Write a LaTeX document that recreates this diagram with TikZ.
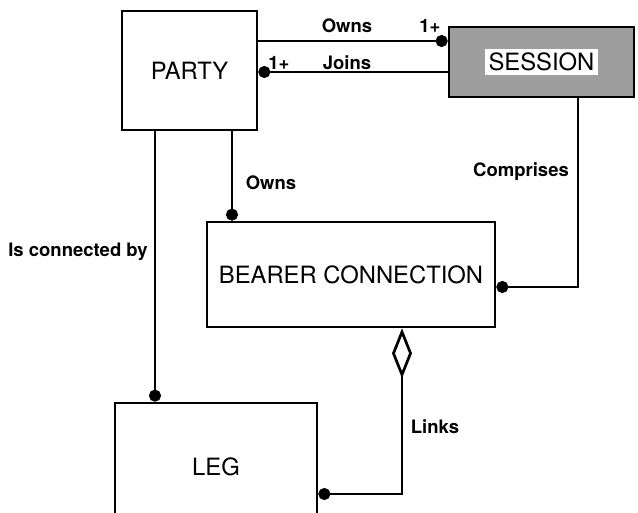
\documentclass[tikz,border=0pt]{standalone}
\usepackage{fontspec}
\setmainfont{TeX Gyre Heros}
\usepackage{xcolor}
\usepackage{tikz}
\usetikzlibrary{arrows.meta, calc}
\definecolor{sessiongray}{RGB}{158,158,158}

\begin{document}
\begin{tikzpicture}[
  x=1pt, y=-1pt,
  entity/.style  = {rectangle, draw, line width=2.7pt, inner sep=0pt,
                    align=center, font=\fontsize{23.8}{28}\selectfont},
  rel/.style     = {line width=2.7pt},
  manyend/.style = {-{Circle[length=12pt, width=12pt]}},
  manystart/.style={{Circle[length=12pt, width=12pt]}-},
  partof/.style  = {{Diamond[open, length=50pt, width=20pt]}-{Circle[length=12pt, width=12pt]}},
  relname/.style = {font=\fontsize{18.5}{22}\selectfont\bfseries, inner sep=1pt},
]
\useasboundingbox (0,0) rectangle (638,513);
\clip (0,0) rectangle (638,513);

%% --- Entities ---
\node[entity, minimum width=135pt, minimum height=119pt] (party)   at (189.5,70.5) {PARTY};
\node[entity, fill=sessiongray, minimum width=185pt, minimum height=70pt]
                                                          (session) at (541.5,62)   {\fboxsep=4pt\colorbox{white}{SESSION}};
\node[entity, minimum width=288pt, minimum height=105pt] (bearer)  at (351,274.5)  {BEARER CONNECTION};
\node[entity, minimum width=202pt, minimum height=128pt] (leg)     at (216,467)    {LEG};

%% --- Party -- Session ---
\draw[rel, manyend]   (party.east |- 0,41) -- (session.west |- 0,41);
\draw[rel, manystart] (party.east |- 0,72) -- (session.west |- 0,72);

%% --- Session -- Bearer connection ---
\draw[rel, manyend] (578,0 |- session.south) |- (bearer.east |- 0,287);

%% --- Party -- Bearer connection, Leg ---
\draw[rel, manyend] (232,0 |- party.south) -- (232,0 |- bearer.north);
\draw[rel, manyend] (155,0 |- party.south) -- (155,0 |- leg.north);

%% --- Bearer connection -- Leg ---
\draw[rel, partof] (402,0 |- bearer.south) |- (leg.east |- 0,494);

%% --- Relation labels ---
\node[relname] (ownstop)  at (347,26)  {Owns};
\node[relname] (owncard)  at (430,26)  {1+};
\node[relname] (joincard) at (279,63)  {1+};
\node[relname] (joins)    at (347,63)  {Joins};
\node[relname] (comp)     at (521,172) {Comprises};
\node[relname] (ownsbc)   at (271,183) {Owns};
\node[relname] (conn)     at (78,252)  {Is connected by};
\node[relname] (links)    at (435,427) {Links};

\end{tikzpicture}
\end{document}
